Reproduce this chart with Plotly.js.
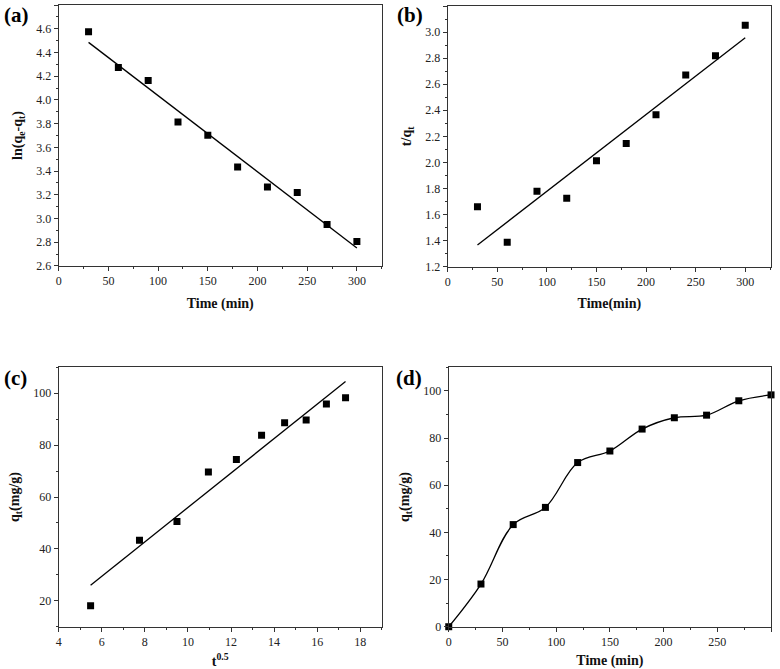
<!DOCTYPE html>
<html>
<head>
<meta charset="utf-8">
<script src="https://cdn.plot.ly/plotly-3.0.1.min.js"></script>
<style>
    body { margin: 0; background: #fff; }
    #plot { width: 780px; height: 669px; }
</style>
</head>
<body>
<div id="plot"></div>
<script>
// time points (min)
const timeMin = [30, 60, 90, 120, 150, 180, 210, 240, 270, 300];

// (a) pseudo-first-order
const lnQeQt = [4.575, 4.273, 4.163, 3.814, 3.701, 3.434, 3.265, 3.220, 2.949, 2.805];
const fitAx = [30, 300];
const fitAy = [4.485, 2.752];

// (b) pseudo-second-order
const tOverQt = [1.660, 1.387, 1.778, 1.724, 2.013, 2.146, 2.366, 2.671, 2.819, 3.052];
const fitBx = [30, 300];
const fitBy = [1.366, 2.957];

// (c) intraparticle diffusion
const sqrtT = [5.48, 7.75, 9.49, 10.95, 12.25, 13.42, 14.49, 15.49, 16.43, 17.32];
const qt = [18.1, 43.3, 50.6, 69.6, 74.5, 83.8, 88.6, 89.7, 95.8, 98.3];
const fitCx = [5.48, 17.32];
const fitCy = [26.0, 104.5];

// (d) uptake curve, starts at origin
const timeD = [0, 30, 60, 90, 120, 150, 180, 210, 240, 270, 300];
const qtD = [0, 18.1, 43.3, 50.6, 69.6, 74.5, 83.8, 88.6, 89.7, 95.8, 98.3];

const serif = '"Liberation Serif", serif';
const axisColor = '#333';

function markers(x, y, xa, ya) {
    return {
        type: 'scatter', mode: 'markers', x: x, y: y, xaxis: xa, yaxis: ya,
        marker: { symbol: 'square', size: 7, color: '#000' },
        showlegend: false, hoverinfo: 'x+y'
    };
}

function fitLine(x, y, xa, ya) {
    return {
        type: 'scatter', mode: 'lines', x: x, y: y, xaxis: xa, yaxis: ya,
        line: { color: '#000', width: 1.3 },
        showlegend: false, hoverinfo: 'skip'
    };
}

function axis(domain, range, dtick, fmt, titleText, anchor) {
    return {
        domain: domain,
        range: range,
        dtick: dtick,
        tickformat: fmt,
        anchor: anchor,
        showgrid: false,
        zeroline: false,
        showline: true,
        mirror: true,
        linecolor: axisColor,
        linewidth: 1,
        ticks: 'outside',
        ticklen: 4,
        tickcolor: axisColor,
        tickfont: { family: serif, size: 12, color: '#222' },
        minor: { ticks: 'outside', ticklen: 2, dtick: dtick / 2, tickcolor: axisColor },
        title: { text: titleText, font: { family: serif, size: 14, color: '#111' }, standoff: 10 },
        automargin: false
    };
}

const traces = [
    fitLine(fitAx, fitAy, 'x', 'y'),
    markers(timeMin, lnQeQt, 'x', 'y'),
    fitLine(fitBx, fitBy, 'x2', 'y2'),
    markers(timeMin, tOverQt, 'x2', 'y2'),
    fitLine(fitCx, fitCy, 'x3', 'y3'),
    markers(sqrtT, qt, 'x3', 'y3'),
    {
        type: 'scatter', mode: 'lines+markers', x: timeD, y: qtD, xaxis: 'x4', yaxis: 'y4',
        line: { color: '#000', width: 1.3, shape: 'spline', smoothing: 1 },
        marker: { symbol: 'square', size: 7, color: '#000' },
        showlegend: false, cliponaxis: false
    }
];

const topY = [0.6025, 0.9925];
const botY = [0.0632, 0.451];

const layout = {
    width: 780,
    height: 669,
    margin: { l: 0, r: 0, t: 0, b: 0 },
    paper_bgcolor: '#fff',
    plot_bgcolor: '#fff',
    showlegend: false,
    xaxis: axis([0.0753, 0.4894], [0, 325], 50, 'd', '<b>Time (min)</b>', 'y'),
    yaxis: axis(topY, [2.6, 4.8], 0.2, '.1f', '<b>ln(q<sub>e</sub>-q<sub>t</sub>)</b>', 'x'),
    xaxis2: axis([0.574, 0.9885], [0, 326], 50, 'd', '<b>Time(min)</b>', 'y2'),
    yaxis2: axis([0.6014, 0.991], [1.2, 3.2], 0.2, '.1f', '<b>t/q<sub>t</sub></b>', 'x2'),
    xaxis3: axis([0.0753, 0.4894], [4, 19], 2, 'd', '<b>t<sup>0.5</sup></b>', 'y3'),
    yaxis3: axis(botY, [10, 110], 20, 'd', '<b>q<sub>t</sub>(mg/g)</b>', 'x3'),
    xaxis4: axis([0.5753, 0.9885], [0, 300], 50, 'd', '<b>Time (min)</b>', 'y4'),
    yaxis4: axis(botY, [0, 110], 20, 'd', '<b>q<sub>t</sub>(mg/g)</b>', 'x4'),
    annotations: [
        ['(a)', 0.003, 0.978], ['(b)', 0.507, 0.978],
        ['(c)', 0.003, 0.435], ['(d)', 0.505, 0.435]
    ].map(a => ({
        text: '<b>' + a[0] + '</b>', x: a[1], y: a[2], xref: 'paper', yref: 'paper',
        xanchor: 'left', yanchor: 'middle', showarrow: false,
        font: { family: serif, size: 21, color: '#000' }
    }))
};

Plotly.newPlot('plot', traces, layout, { displayModeBar: false, staticPlot: true });
</script>
</body>
</html>
